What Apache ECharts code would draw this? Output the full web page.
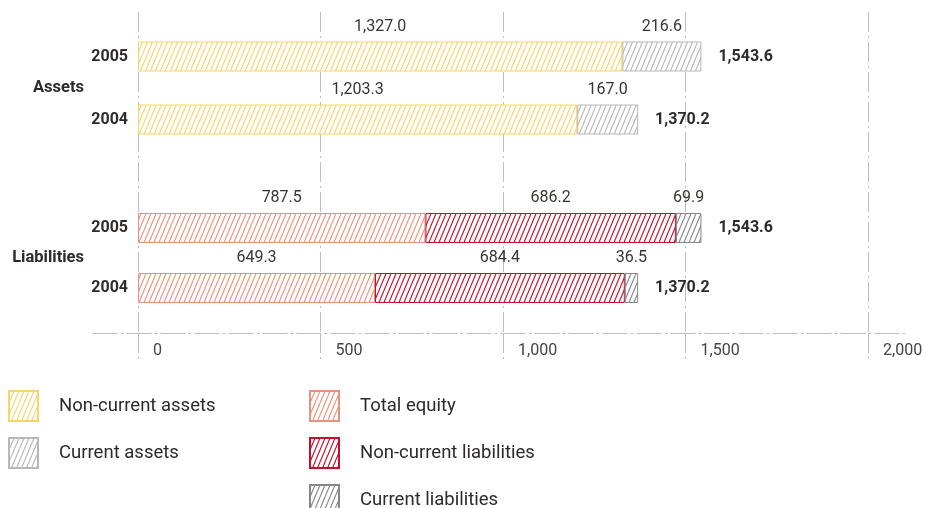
<!DOCTYPE html>
<html>
<head>
<meta charset="utf-8">
<title>Balance sheet structure 2004–2005</title>
<script src="https://cdn.jsdelivr.net/npm/echarts@6/dist/echarts.min.js"></script>
<style>
  html, body { margin: 0; padding: 0; background: #ffffff; }
  #chart { width: 926px; height: 508px; }
</style>
</head>
<body>
<div id="chart"></div>
<script>
// Balance sheet figures (in millions), years listed top to bottom
const years = ['2005', '2004'];
const nonCurrentAssets = [1327.0, 1203.3];
const currentAssets = [216.6, 167.0];
const totalEquity = [787.5, 649.3];
const nonCurrentLiabilities = [686.2, 684.4];
const currentLiabilities = [69.9, 36.5];
const balanceTotals = [1543.6, 1370.2];
const axisMin = 0;
const axisMax = 2000;
const axisStep = 500;

const TEXT = '#2e2a29';
const GRID_GRAY = '#bdbdbd';
const FONT = 'Roboto, "Noto Sans", sans-serif';

// Diagonal hatch fill ("////") on a white ground
function hatch(color) {
  const w = 5, h = 12;
  const c = document.createElement('canvas');
  c.width = w; c.height = h;
  const ctx = c.getContext('2d');
  ctx.fillStyle = '#ffffff';
  ctx.fillRect(0, 0, w, h);
  ctx.strokeStyle = color;
  ctx.lineWidth = 1.1;
  [-w, 0, w].forEach(function (dx) {
    ctx.beginPath();
    ctx.moveTo(dx - w, 2 * h);
    ctx.lineTo(dx + 2 * w, -h);
    ctx.stroke();
  });
  return { image: c, repeat: 'repeat' };
}

const oneDecimal = v => Number(v).toLocaleString('en-US', { minimumFractionDigits: 1, maximumFractionDigits: 1 });

function segment(name, data, color, axis, stack) {
  return {
    name: name,
    type: 'bar',
    xAxisIndex: axis,
    yAxisIndex: axis,
    stack: stack,
    data: data,
    barWidth: 30,
    barGap: '-100%',
    itemStyle: { color: hatch(color), borderColor: color, borderWidth: 1 },
    label: {
      show: true,
      position: 'top',
      distance: 7,
      color: '#3a3533',
      fontFamily: FONT,
      fontSize: 16,
      formatter: p => oneDecimal(p.value)
    },
    emphasis: { disabled: true },
    silent: true
  };
}

function totalBar(axis) {
  return {
    name: 'total' + axis,
    type: 'bar',
    xAxisIndex: axis,
    yAxisIndex: axis,
    data: balanceTotals,
    barWidth: 30,
    barGap: '-100%',
    z: 1,
    itemStyle: { color: 'rgba(0,0,0,0)' },
    label: {
      show: true,
      position: 'right',
      distance: 17,
      color: TEXT,
      fontFamily: FONT,
      fontSize: 16,
      fontWeight: 'bold',
      formatter: p => oneDecimal(p.value)
    },
    emphasis: { disabled: true },
    silent: true
  };
}

function hiddenValueX(grid) {
  return { gridIndex: grid, type: 'value', min: axisMin, max: axisMax, interval: axisStep, show: false };
}

function yearAxis(grid, title, gap) {
  return {
    gridIndex: grid,
    type: 'category',
    data: years,
    inverse: true,
    axisLine: { show: false },
    axisTick: { show: false },
    axisLabel: { color: TEXT, fontFamily: FONT, fontSize: 16, fontWeight: 'bold', margin: 10 },
    name: title,
    nameLocation: 'middle',
    nameRotate: 0,
    nameGap: gap,
    nameTextStyle: { color: TEXT, fontFamily: FONT, fontSize: 16.5, fontWeight: 'bold', align: 'right', verticalAlign: 'middle' }
  };
}

const legendBase = {
  orient: 'vertical',
  top: 390,
  height: 140,
  padding: 0,
  itemWidth: 29,
  itemHeight: 30,
  itemGap: 15,
  icon: 'rect',
  selectedMode: false,
  textStyle: { color: TEXT, fontFamily: FONT, fontSize: 18.5, padding: [0, 0, 0, 16] }
};

const chart = echarts.init(document.getElementById('chart'), null, { renderer: 'canvas' });

chart.setOption({
  backgroundColor: '#ffffff',
  animation: false,
  grid: [
    { left: 138, width: 730, top: 25, height: 126 },   // assets
    { left: 138, width: 730, top: 198, height: 120 },  // liabilities
    { left: 138, width: 730, top: 12, height: 321 },   // shared scale and gridlines
    { left: 93, width: 812, top: 12, height: 321 }     // long baseline
  ],
  xAxis: [
    hiddenValueX(0),
    hiddenValueX(1),
    {
      gridIndex: 2,
      type: 'value',
      min: axisMin,
      max: axisMax,
      interval: axisStep,
      axisLine: { show: false },
      axisTick: { show: true, inside: false, length: 27, lineStyle: { color: GRID_GRAY, width: 1, type: [20, 4, 2, 4] } },
      splitLine: { show: true, lineStyle: { color: GRID_GRAY, width: 1, type: [20, 4, 2, 4] } },
      axisLabel: {
        margin: 10,
        align: 'left',
        padding: [0, 0, 0, 15],
        color: '#444444',
        fontFamily: FONT,
        fontSize: 16,
        formatter: v => Number(v).toLocaleString('en-US')
      }
    },
    {
      gridIndex: 3,
      type: 'value',
      min: 0,
      max: 1,
      axisLine: { show: true, lineStyle: { color: GRID_GRAY, width: 1, type: [24, 4, 2, 4] } },
      axisTick: { show: false },
      axisLabel: { show: false },
      splitLine: { show: false }
    }
  ],
  yAxis: [
    yearAxis(0, 'Assets', 54),
    yearAxis(1, 'Liabilities', 54),
    { gridIndex: 2, type: 'value', show: false },
    { gridIndex: 3, type: 'value', show: false }
  ],
  legend: [
    Object.assign({}, legendBase, { left: 8, data: ['Non-current assets', 'Current assets'] }),
    Object.assign({}, legendBase, { left: 309, data: ['Total equity', 'Non-current liabilities', 'Current liabilities'] })
  ],
  series: [
    segment('Non-current assets', nonCurrentAssets, '#f8d46a', 0, 'assets'),
    segment('Current assets', currentAssets, '#b8b8b8', 0, 'assets'),
    totalBar(0),
    segment('Total equity', totalEquity, '#e8927c', 1, 'liabilities'),
    segment('Non-current liabilities', nonCurrentLiabilities, '#c50f2c', 1, 'liabilities'),
    segment('Current liabilities', currentLiabilities, '#878787', 1, 'liabilities'),
    totalBar(1)
  ]
});
</script>
</body>
</html>
